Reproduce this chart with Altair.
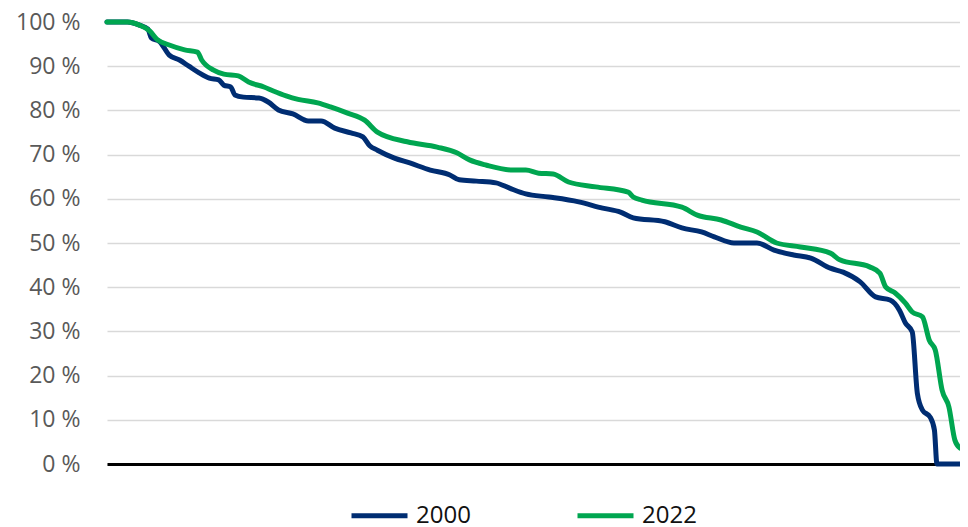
import altair as alt
import pandas as pd

# Rank position (share of the x range, 0-100) and value (%) for each series
rank_2000 = [0, 2.4, 3.8, 4.8, 5.2, 6.2, 7.3, 8.5, 9.6, 10.8, 12.0, 13.1, 13.7, 14.5, 15.0,
             16.0, 17.8, 18.9, 20.1, 21.8, 23.6, 25.1, 26.7, 28.6, 30.0, 30.8, 31.7, 33.7,
             35.5, 37.9, 40.2, 41.3, 43.3, 45.6, 47.2, 49.1, 51.8, 55.3, 58.1, 60.2, 61.7,
             65.4, 67.4, 69.7, 71.2, 73.5, 76.2, 78.2, 80.5, 82.5, 84.8, 86.3, 88.3, 90.1,
             91.8, 92.9, 93.6, 94.4, 95.0, 95.6, 96.5, 97.0, 97.3, 100]
value_2000 = [100, 100, 99.3, 98.4, 96.4, 95.5, 92.5, 91.4, 90, 88.5, 87.3, 86.9, 85.7, 85.3,
              83.5, 83, 82.8, 81.9, 80.1, 79.2, 77.6, 77.6, 76, 74.9, 74, 72, 71, 69.2, 68.1,
              66.5, 65.4, 64.3, 64, 63.6, 62.4, 61.1, 60.4, 59.3, 57.9, 57, 55.7, 54.8, 53.4,
              52.5, 51.4, 50, 50, 48.4, 47.3, 46.6, 44.3, 43.4, 41.2, 37.8, 37.1, 34.8, 31.9,
              29.9, 16, 12.2, 10.6, 7.7, 0, 0]

rank_2022 = [0, 2.4, 3.8, 5.0, 5.9, 7.3, 9.1, 10.6, 11.1, 12.5, 13.7, 15.4, 16.6, 18.4, 19.5,
             21.0, 22.4, 24.7, 26.2, 28.2, 30.2, 31.7, 35.2, 38.7, 41.0, 42.5, 44.5, 47.6,
             49.1, 50.6, 52.3, 54.1, 57.3, 61.1, 61.7, 62.7, 67.4, 69.2, 72.0, 74.3, 76.2,
             78.5, 81.3, 84.8, 85.9, 89.4, 90.6, 91.3, 92.4, 93.6, 94.4, 95.6, 96.4, 97.1,
             97.9, 98.7, 99.4, 100]
value_2022 = [100, 100, 99.3, 98, 96, 94.8, 93.7, 93.2, 91.4, 89.1, 88.2, 87.8, 86.4, 85.3,
              84.4, 83.3, 82.5, 81.7, 80.8, 79.4, 77.8, 75.1, 72.9, 71.7, 70.4, 68.8, 67.6,
              66.5, 66.5, 65.8, 65.6, 63.8, 62.7, 61.5, 60.4, 59.7, 58.1, 56.3, 55.2, 53.6,
              52.5, 50, 49.1, 47.7, 46.2, 44.6, 43.2, 40, 38.7, 36.4, 34.4, 33.3, 28, 25.8,
              16.7, 12.9, 5.4, 3.6]

series = ["2000", "2022"]
colors = ["#002D72", "#00A650"]
y_ticks = [0, 10, 20, 30, 40, 50, 60, 70, 80, 90, 100]

df = pd.concat([
    pd.DataFrame({"rank": rank_2000, "value": value_2000, "series": "2000", "o": range(len(rank_2000))}),
    pd.DataFrame({"rank": rank_2022, "value": value_2022, "series": "2022", "o": range(len(rank_2022))}),
])

FONT = "Open Sans"

chart = alt.Chart(df).mark_line(
    strokeWidth=5, strokeJoin="round", strokeCap="round", interpolate="monotone"
).encode(
    x=alt.X("rank:Q", scale=alt.Scale(domain=[0, 100], nice=False, zero=False),
            axis=alt.Axis(title=None, labels=False, ticks=False, grid=False,
                          domain=True, domainColor="#000000", domainWidth=3)),
    y=alt.Y("value:Q", scale=alt.Scale(domain=[0, 100], nice=False),
            axis=alt.Axis(title=None, values=y_ticks, labelExpr="datum.value + ' %'",
                          ticks=False, domain=False, grid=True, gridColor="#D9D9D9",
                          gridWidth=1.5, labelFont=FONT, labelFontSize=23,
                          labelColor="#595959", labelPadding=27)),
    color=alt.Color("series:N", scale=alt.Scale(domain=series, range=colors),
                    legend=alt.Legend(title=None, orient="none", direction="horizontal",
                                      legendX=242, legendY=463, symbolType="stroke",
                                      symbolSize=3136, symbolStrokeWidth=5,
                                      labelFont=FONT, labelFontSize=24, labelColor="#111111",
                                      labelOffset=6, columnPadding=96, padding=0)),
    order="o:Q",
).properties(
    width=853, height=442,
    autosize=alt.AutoSizeParams(type="none"),
    padding={"left": 99, "top": 14, "right": 0, "bottom": 80},
).configure_view(stroke=None)

chart.save("out.html", embed_options={"renderer": "svg", "actions": False})
